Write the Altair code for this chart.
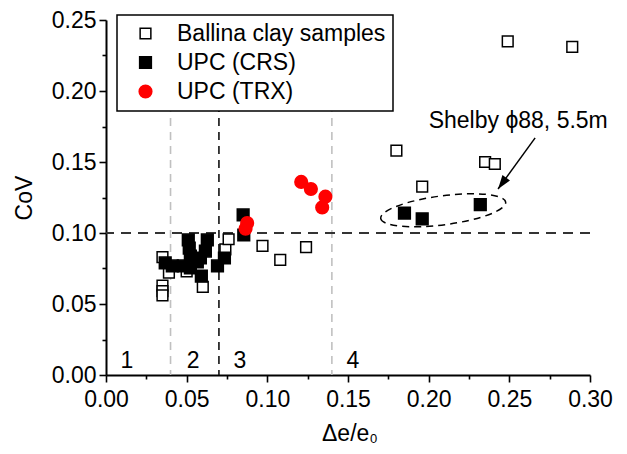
import altair as alt
import pandas as pd

# ---------------- data ----------------
ballina_x = [0.035, 0.035, 0.035, 0.035, 0.039, 0.050, 0.060, 0.074, 0.076,
             0.097, 0.108, 0.124, 0.180, 0.196, 0.235, 0.241, 0.249, 0.289]
ballina_y = [0.083, 0.063, 0.059, 0.056, 0.072, 0.073, 0.062, 0.0885, 0.0956,
             0.091, 0.081, 0.090, 0.158, 0.1326, 0.150, 0.1486, 0.235, 0.231]

crs_x = [0.0367, 0.0411, 0.0479, 0.0523, 0.0510, 0.0516, 0.0523, 0.0628, 0.0616,
         0.0591, 0.0566, 0.0585, 0.0691, 0.0734, 0.0850, 0.0854, 0.185, 0.196, 0.232]
crs_y = [0.0789, 0.0768, 0.0768, 0.0754, 0.0951, 0.0894, 0.0838, 0.0951, 0.0873,
         0.0697, 0.0796, 0.0824, 0.0768, 0.0824, 0.1127, 0.0986, 0.114, 0.110, 0.120]

trx_x = [0.0865, 0.0875, 0.121, 0.127, 0.136, 0.134]
trx_y = [0.103, 0.107, 0.136, 0.131, 0.1256, 0.118]

series_names = ["Ballina clay samples", "UPC (CRS)", "UPC (TRX)"]

cov_threshold = [0.10]
zone_bounds_grey = [0.04, 0.14]
zone_bounds_black = [0.07]
zone_labels = ["1", "2", "3", "4"]
zone_label_x = [0.013, 0.054, 0.083, 0.153]
zone_label_y = [0.005, 0.005, 0.005, 0.005]

note_text = ["Shelby \u03d588, 5.5m"]
note_x = [0.200]
note_y = [0.174]
arrow_start = (0.266, 0.167)
arrow_end = (0.243, 0.131)
ellipse_center = (0.209, 0.116)

x_title_main = "\u0394e/e"
x_title_sub = "0"
y_title = "CoV"

x_major = [0.0, 0.05, 0.10, 0.15, 0.20, 0.25, 0.30]
x_minor = [0.025, 0.075, 0.125, 0.175, 0.225, 0.275]
y_major = [0.0, 0.05, 0.10, 0.15, 0.20, 0.25]
y_minor = [0.025, 0.075, 0.125, 0.175, 0.225]

# ---------------- build ----------------
FONT = "Liberation Sans"
FS = 23

rows = []
for name, xs, ys in [(series_names[0], ballina_x, ballina_y),
                     (series_names[1], crs_x, crs_y),
                     (series_names[2], trx_x, trx_y)]:
    for a, b in zip(xs, ys):
        rows.append({"x": a, "y": b, "series": name})
df = pd.DataFrame(rows)

XS = alt.Scale(domain=[0, 0.3], nice=False, zero=False)
YS = alt.Scale(domain=[0, 0.25], nice=False, zero=False)

points = alt.Chart(df).mark_point(filled=True, opacity=1, strokeWidth=1.5).encode(
    x=alt.X("x:Q", scale=XS, title=None,
            axis=alt.Axis(values=x_major, format=".2f", orient="bottom", labelFlush=False,
                          tickSize=7, labelPadding=6)),
    y=alt.Y("y:Q", scale=YS, title=y_title,
            axis=alt.Axis(values=y_major, format=".2f", orient="left", labelFlush=False,
                          tickSize=7, titlePadding=15, labelPadding=3)),
    shape=alt.Shape("series:N", title=None,
                    scale=alt.Scale(domain=series_names, range=["square", "square", "circle"]),
                    legend=alt.Legend(orient="none", legendX=11, legendY=-5)),
    fill=alt.Fill("series:N", title=None,
                  scale=alt.Scale(domain=series_names, range=["white", "black", "#ff0000"])),
    stroke=alt.Stroke("series:N", title=None,
                      scale=alt.Scale(domain=series_names, range=["black", "black", "#ff0000"])),
    size=alt.Size("series:N", title=None,
                  scale=alt.Scale(domain=series_names, range=[115, 160, 175])),
)

minor = alt.Chart(df).mark_point(opacity=0).encode(
    x=alt.X("x:Q", scale=XS, title=None,
            axis=alt.Axis(values=x_minor, labels=False, domain=False, orient="bottom", tickSize=4)),
    y=alt.Y("y:Q", scale=YS, title=None,
            axis=alt.Axis(values=y_minor, labels=False, domain=False, orient="left", tickSize=4)),
)

hline = alt.Chart(pd.DataFrame({"y": cov_threshold})).mark_rule(
    strokeDash=[10, 7], color="#333333", strokeWidth=1.8
).encode(y=alt.Y("y:Q", scale=YS, axis=None))

vgrey = alt.Chart(pd.DataFrame({"x": zone_bounds_grey})).mark_rule(
    strokeDash=[8, 6], color="#c0c0c0", strokeWidth=1.6
).encode(x=alt.X("x:Q", scale=XS, axis=None))

vblack = alt.Chart(pd.DataFrame({"x": zone_bounds_black})).mark_rule(
    strokeDash=[8, 6], color="#111111", strokeWidth=1.6
).encode(x=alt.X("x:Q", scale=XS, axis=None))

zones = alt.Chart(pd.DataFrame({"x": zone_label_x, "y": zone_label_y, "t": zone_labels})).mark_text(
    font=FONT, fontSize=FS, align="center", baseline="alphabetic", color="black"
).encode(x=alt.X("x:Q", scale=XS, axis=None), y=alt.Y("y:Q", scale=YS, axis=None), text="t:N")

note = alt.Chart(pd.DataFrame({"x": note_x, "y": note_y, "t": note_text})).mark_text(
    font=FONT, fontSize=FS, align="left", baseline="alphabetic", color="black"
).encode(x=alt.X("x:Q", scale=XS, axis=None), y=alt.Y("y:Q", scale=YS, axis=None), text="t:N")

arrow_df = pd.DataFrame({"x": [arrow_start[0]], "y": [arrow_start[1]],
                         "x2": [arrow_end[0]], "y2": [arrow_end[1]]})
arrow_line = alt.Chart(arrow_df).mark_rule(color="black", strokeWidth=1.5).encode(
    x=alt.X("x:Q", scale=XS, axis=None), y=alt.Y("y:Q", scale=YS, axis=None),
    x2="x2:Q", y2="y2:Q")

arrow_head = alt.Chart(pd.DataFrame({"x": [arrow_end[0]], "y": [arrow_end[1]]})).mark_point(
    shape="M0,0L-0.6,1.8L0.6,1.8Z", filled=True, color="black", opacity=1,
    size=240, angle=216
).encode(x=alt.X("x:Q", scale=XS, axis=None), y=alt.Y("y:Q", scale=YS, axis=None))

ellipse = alt.Chart(pd.DataFrame({"x": [ellipse_center[0]], "y": [ellipse_center[1]]})).mark_point(
    shape="M-1,0A1,0.23,0,1,0,1,0A1,0.23,0,1,0,-1,0Z", filled=False, color="black",
    strokeWidth=1.5, strokeDash=[7, 5], size=15876, angle=352.6, opacity=1
).encode(x=alt.X("x:Q", scale=XS, axis=None), y=alt.Y("y:Q", scale=YS, axis=None))

# x-axis title drawn as text (main part + subscript), placed below the axis labels
xt_main = alt.Chart(pd.DataFrame({"t": [x_title_main]})).mark_text(
    font=FONT, fontSize=FS, align="left", baseline="alphabetic", color="black"
).encode(x=alt.value(216), y=alt.value(421), text="t:N")
xt_sub = alt.Chart(pd.DataFrame({"t": [x_title_sub]})).mark_text(
    font=FONT, fontSize=13, align="left", baseline="alphabetic", color="black"
).encode(x=alt.value(264), y=alt.value(423), text="t:N")

chart = alt.layer(
    vgrey, vblack, hline, minor, points, zones, note, arrow_line, arrow_head, ellipse,
    xt_main, xt_sub
).resolve_axis(x="independent", y="independent").properties(
    width=484, height=355,
    autosize=alt.AutoSizeParams(type="none"),
    padding={"left": 98, "top": 12, "right": 29, "bottom": 71},
).configure_view(stroke=None).configure_axis(
    labelFont=FONT, labelFontSize=FS, labelColor="black",
    titleFont=FONT, titleFontSize=FS, titleColor="black", titleFontWeight="normal",
    domainColor="black", domainWidth=2, tickColor="black", tickWidth=1.6, grid=False,
).configure_legend(
    labelFont=FONT, labelFontSize=FS, labelColor="black",
    fillColor="white", strokeColor="black", strokeWidth=1.5,
    padding=7, symbolOffset=10, labelOffset=20, rowPadding=5,
    symbolStrokeWidth=1.5, labelLimit=400,
)

chart.save("out.html", embed_options={"renderer": "svg", "actions": False})
